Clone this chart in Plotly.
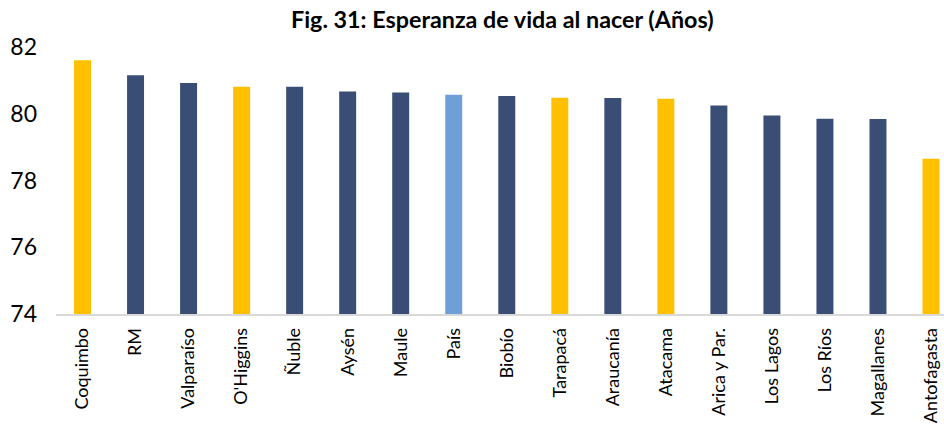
import plotly.graph_objects as go

categories = ["Coquimbo", "RM", "Valparaíso", "O'Higgins", "Ñuble", "Aysén", "Maule", "País",
              "Biobío", "Tarapacá", "Araucanía", "Atacama", "Arica y Par.", "Los Lagos",
              "Los Ríos", "Magallanes", "Antofagasta"]
values = [81.6, 81.15, 80.92, 80.81, 80.81, 80.67, 80.64, 80.57,
          80.53, 80.48, 80.47, 80.45, 80.25, 79.95, 79.85, 79.84, 78.65]
group = ["hl", "base", "base", "hl", "base", "base", "base", "pais",
         "base", "hl", "base", "hl", "base", "base", "base", "base", "hl"]
palette = {"hl": "#FFC000", "base": "#3A4D75", "pais": "#6F9FD8"}
title_text = "<b>Fig. 31: Esperanza de vida al nacer (Años)</b>"

fig = go.Figure(go.Bar(
    x=categories, y=values,
    marker=dict(color=[palette[g] for g in group], line=dict(width=0)),
    width=0.32,
))

W, H = 944, 425
ml, mt, mb = 55.5, 47, 111
pw, ph = W - ml, H - mt - mb
fig.update_layout(
    width=W, height=H,
    margin=dict(l=ml, r=0, t=mt, b=mb, pad=0),
    paper_bgcolor="white", plot_bgcolor="white",
    showlegend=False,
    font=dict(family="Lato, 'Liberation Sans', sans-serif", color="#000000"),
)
fig.update_xaxes(
    range=[-0.5, 16.245], showgrid=False, showline=True, linecolor="#D9D9D9", linewidth=1.5,
    tickangle=-90, tickfont=dict(size=18, color="#000000"), ticks="", ticklabelstandoff=5,
    automargin=False,
)
fig.update_yaxes(
    range=[74, 82], dtick=2, tick0=74, showgrid=False, showline=False, zeroline=False,
    tickfont=dict(size=23, color="#000000"), ticks="", ticklabelstandoff=18,
    automargin=False,
)
fig.add_annotation(
    text=title_text, x=(502 - ml) / pw, y=1 + (mt - 19) / ph, xref="paper", yref="paper",
    xanchor="center", yanchor="middle", showarrow=False,
    font=dict(size=23.3, family="Lato, 'Liberation Sans', sans-serif", color="#000000"),
)
fig.write_html(
    "out.html",
    config={"displayModeBar": False},
    post_script="document.body.style.margin='0';document.body.style.overflow='hidden';",
)
